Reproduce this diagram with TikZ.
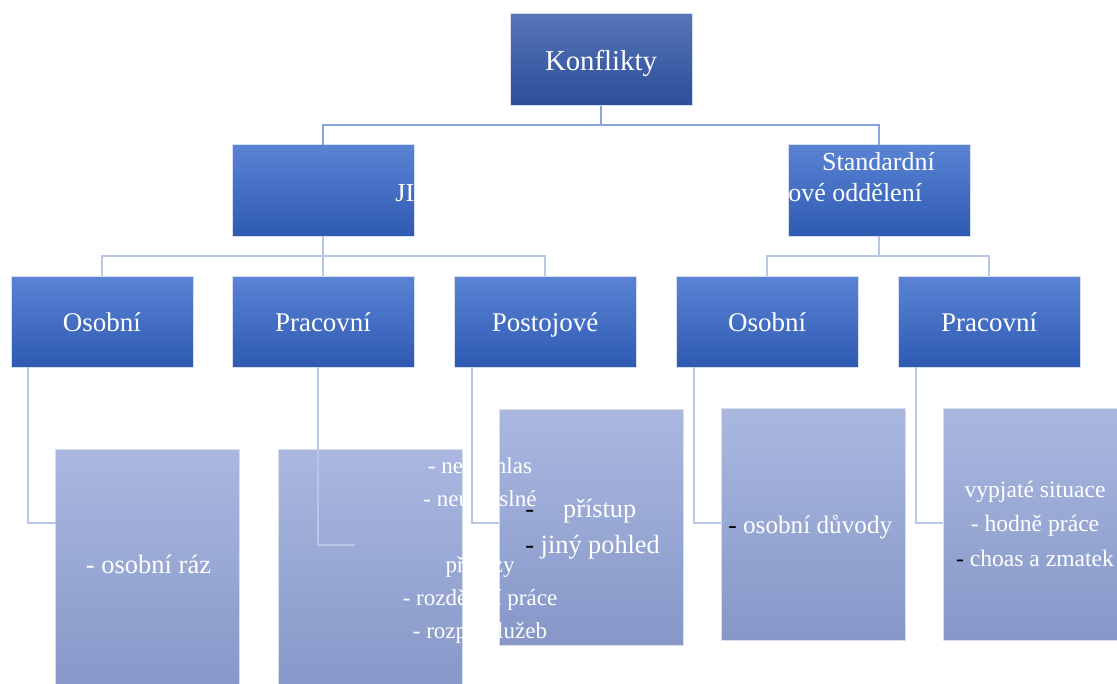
\documentclass[tikz,border=0pt]{standalone}
\usepackage{fontspec}
\setmainfont{Liberation Serif}
\usepackage{tikz}
\definecolor{topA}{RGB}{88,116,184}
\definecolor{topB}{RGB}{42,78,152}
\definecolor{midA}{RGB}{90,131,212}
\definecolor{midB}{RGB}{46,90,178}
\definecolor{leafA}{RGB}{170,184,224}
\definecolor{leafB}{RGB}{134,151,200}
\definecolor{connc}{RGB}{184,198,232}
\definecolor{topline}{RGB}{140,162,218}
\definecolor{edgec}{RGB}{214,222,242}
\tikzstyle{topbox}=[draw=edgec,line width=.5pt,top color=topA,bottom color=topB,minimum width=91pt,minimum height=46pt,inner sep=0pt,outer sep=0pt]
\tikzstyle{midbox}=[topbox,top color=midA,bottom color=midB,minimum height=45.5pt]
\tikzstyle{leafbox}=[topbox,top color=leafA,bottom color=leafB,minimum width=92pt]
\tikzstyle{conn}=[draw=connc,line width=.6pt]
\tikzstyle{lbl}=[text=white,inner sep=0pt,font=\fontsize{13.5}{16}\selectfont]
\begin{document}
\begin{tikzpicture}[x=.5pt,y=-.5pt]
	\clip (0,0) rectangle (1117,684);
	\fill[white] (0,0) rectangle (1117,684);

	% boxes
	\node[topbox] (konf) at (601,60) {};
	\node[midbox] (jip) at (323,190.5) {};
	\node[midbox] (std) at (879,190.5) {};
	\node[midbox] (os1) at (102,321.5) {};
	\node[midbox] (pr1) at (323,321.5) {};
	\node[midbox] (po1) at (545,321.5) {};
	\node[midbox] (os2) at (767,321.5) {};
	\node[midbox] (pr2) at (989,321.5) {};

	% connectors
	\draw[conn,draw=topline] (konf.south) -- ++(0,19) coordinate (k1);
	\draw[conn,draw=topline] (k1) -| (jip.north);
	\draw[conn,draw=topline] (k1) -| (std.north);
	\draw[conn] (jip.south) -- ++(0,20) coordinate (j1);
	\draw[conn] (j1) -| (os1.north);
	\draw[conn] (j1) -| (pr1.north);
	\draw[conn] (j1) -| (po1.north);
	\draw[conn] (std.south) -- ++(0,20) coordinate (s1);
	\draw[conn] (s1) -| (os2.north);
	\draw[conn] (s1) -| (pr2.north);

	% leaves
	\node[leafbox,minimum height=120.5pt] (osl) at (147.5,569.5) {};
	\node[leafbox,minimum height=120.5pt] (prl) at (370,569.5) {};
	\node[leafbox,minimum height=118pt] (pol) at (591,527) {};
	\node[leafbox,minimum height=116pt] (osl2) at (813,524) {};
	\node[leafbox,minimum height=116pt] (prl2) at (1035,524) {};

	\draw[conn] ([xshift=8.5pt]os1.south west) |- ([yshift=-37pt]osl.north west);
	\draw[conn] ([xshift=43pt]pr1.south west) |- ([xshift=38.5pt,yshift=-48pt]prl.north west);
	\draw[conn] ([xshift=9pt]po1.south west) |- ([yshift=-57pt]pol.north west);
	\draw[conn] ([xshift=9pt]os2.south west) |- ([yshift=-57.5pt]osl2.north west);
	\draw[conn] ([xshift=9pt]pr2.south west) |- ([yshift=-57.5pt]prl2.north west);

	% texts
	\node[lbl,anchor=base,font=\fontsize{14.4}{17}\selectfont] (tkonf) at (601,71) {Konflikty};
	\node[lbl,anchor=base west,font=\fontsize{13}{16}\selectfont] (tjip) at (395,202) {JI};
	\node[lbl,anchor=base,font=\fontsize{13}{16}\selectfont] (tstd) at (878.5,170) {Standardní};
	\node[lbl,anchor=base west,font=\fontsize{13}{16}\selectfont] (tstd2) at (788,202) {ové oddělení};
	\node[lbl,anchor=base] (tos1) at (102,331) {Osobní};
	\node[lbl,anchor=base] (tpr1) at (323,331) {Pracovní};
	\node[lbl,anchor=base] (tpo1) at (545,331) {Postojové};
	\node[lbl,anchor=base] (tos2) at (767,331) {Osobní};
	\node[lbl,anchor=base] (tpr2) at (989,331) {Pracovní};

	\node[lbl,anchor=base,font=\fontsize{13.25}{16}\selectfont] (tosl) at (148.5,573) {- osobní ráz};
	\begin{scope}
		\clip (prl.south west) rectangle (prl.north east) (pol.south west) rectangle (pol.north east);
		\node[lbl,anchor=base,align=center,font=\fontsize{11.5}{16.5}\selectfont] (tprl) at (480,638)
		{- nesouhlas\\- neúmyslné\\[16.5pt]příkazy\\- rozdělení práce\\- rozpis služeb};
	\end{scope}
	\node[lbl,anchor=base west,align=left,font=\fontsize{13.15}{18}\selectfont] (tpol) at (525,553)
	{{\color{black}-}\hspace{14.5pt}přístup\\{\color{black}-} jiný pohled};
	\node[lbl,anchor=base west,font=\fontsize{12.6}{16}\selectfont] (tosl2) at (728,533)
	{{\color{black}-} osobní důvody};
	\node[lbl,anchor=base,align=center,font=\fontsize{11.8}{17.25}\selectfont] (tprl2) at (1035,566)
	{vypjaté situace\\- hodně práce\\{\color{black}-} choas a zmatek};
\end{tikzpicture}
\end{document}
